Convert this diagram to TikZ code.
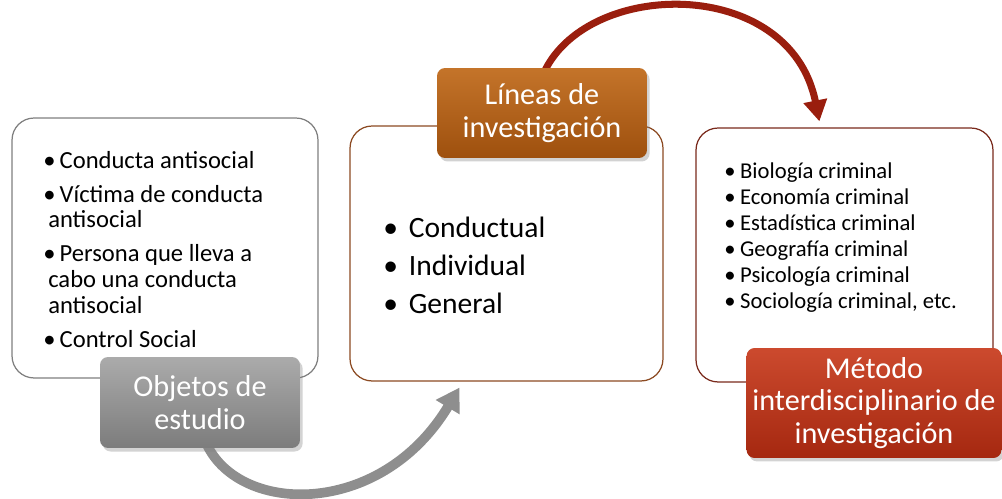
\documentclass[tikz,border=0pt]{standalone}
\usepackage{fontspec}
\setmainfont{Carlito}
\usetikzlibrary{arrows.meta,shadows,calc,backgrounds}
\definecolor{edgegray}{HTML}{7F7F7F}
\definecolor{edgebrown}{HTML}{8C4A22}
\definecolor{edgered}{HTML}{7A2A1C}
\definecolor{graytop}{HTML}{ABABAB}
\definecolor{graybot}{HTML}{7C7C7C}
\definecolor{browntop}{HTML}{C4742A}
\definecolor{brownbot}{HTML}{9E500E}
\definecolor{redtop}{HTML}{CC4A2E}
\definecolor{redbot}{HTML}{A52810}
\definecolor{arrowgray}{HTML}{8E8E8E}
\definecolor{arrowred}{HTML}{9A1E0E}
\begin{document}
\begin{tikzpicture}[x=0.02cm,y=-0.02cm,
  panel/.style={draw, rounded corners=0.44cm, fill=white, line width=0.7pt},
  tag/.style={rounded corners=0.16cm, text=white, align=center,
    font=\fontsize{17.2}{18.5}\selectfont,
    drop shadow={shadow xshift=1.5pt,shadow yshift=-2pt,opacity=0.35}},
  listtext/.style={anchor=north west, inner sep=0pt, align=left},
  flowgray/.style={line width=5.5pt, draw=arrowgray, -{Triangle[length=13pt,width=15pt]}},
  flowred/.style={line width=4pt, draw=arrowred, -{Triangle[length=12pt,width=13pt]}}]
\useasboundingbox (0,0) rectangle (1002,499);

% panels
\node[panel, draw=edgegray, minimum width=6.12cm, minimum height=5.2cm] (b1) at (165,248) {};
\node[panel, draw=edgebrown, minimum width=6.26cm, minimum height=5.1cm] (b2) at (506.5,253.5) {};
\node[panel, draw=edgered, minimum width=5.94cm, minimum height=5.08cm] (b3) at (844.5,255) {};

% list texts
\node[listtext, font=\fontsize{14}{14.7}\selectfont] (t1) at (43,151) {%
\textbullet\,Conducta antisocial\\[4.5pt]
\textbullet\,Víctima de conducta\\
\hspace*{0.2em}antisocial\\[4.5pt]
\textbullet\,Persona que lleva a\\
\hspace*{0.2em}cabo una conducta\\
\hspace*{0.2em}antisocial\\[4.5pt]
\textbullet\,Control Social};

\node[listtext, font=\fontsize{16.8}{21.5}\selectfont] (t2) at (383,217) {%
\makebox[14.5pt][l]{\textbullet}Conductual\\
\makebox[14.5pt][l]{\textbullet}Individual\\
\makebox[14.5pt][l]{\textbullet}General};

\node[listtext, font=\fontsize{12.9}{14.8}\selectfont] (t3) at (724,162) {%
\makebox[9pt][l]{\textbullet}Biología criminal\\
\makebox[9pt][l]{\textbullet}Economía criminal\\
\makebox[9pt][l]{\textbullet}Estadística criminal\\
\makebox[9pt][l]{\textbullet}Geografía criminal\\
\makebox[9pt][l]{\textbullet}Psicología criminal\\
\makebox[9pt][l]{\textbullet}Sociología criminal, etc.};

% labels
\node[tag, top color=redtop, bottom color=redbot, minimum width=5.04cm, minimum height=2.2cm] (met) at (874,403) {Método\\interdisciplinario de\\investigación};
\node[tag, top color=graytop, bottom color=graybot, minimum width=4cm, minimum height=1.82cm] (obj) at (200,402.5) {Objetos de\\estudio};
\node[tag, top color=browntop, bottom color=brownbot, minimum width=4.2cm, minimum height=1.8cm] (lin) at (542,113) {Líneas de\\investigación};

% arrow end points
\coordinate (gStart) at ($(obj.south)+(5,-8)$);
\coordinate (rStart) at ($(lin.north)+(1,7)$);
\coordinate (gEnd) at ($(b2.south west)+(110,6)$);
\coordinate (rEnd) at ($(b3.north west)+(124,-6)$);

% arrows, behind the labels they start from
\begin{scope}[on background layer]
\draw[flowgray] (gStart) .. controls (235,515) and (380,520) .. (gEnd);
\draw[flowred] (rStart) .. controls (585,-22) and (790,-25) .. (rEnd);
\end{scope}
\end{tikzpicture}
\end{document}
